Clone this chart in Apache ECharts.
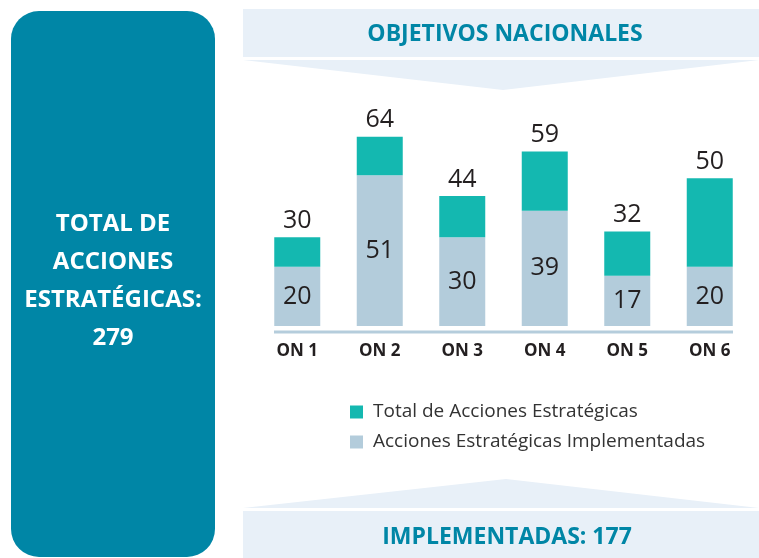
<!DOCTYPE html>
<html>
<head>
<meta charset="utf-8">
<script src="https://cdn.jsdelivr.net/npm/echarts@6.0.0/dist/echarts.min.js"></script>
<style>
  html, body { margin: 0; padding: 0; background: #fff; }
  #chart { width: 759px; height: 558px; }
</style>
</head>
<body>
<div id="chart"></div>
<script>
// datos por objetivo nacional
var categorias = ['ON 1', 'ON 2', 'ON 3', 'ON 4', 'ON 5', 'ON 6'];
var totalAcciones = [30, 64, 44, 59, 32, 50];
var implementadas = [20, 51, 30, 39, 17, 20];

var nombreTotal = 'Total de Acciones Estratégicas';
var nombreImpl = 'Acciones Estratégicas Implementadas';

// parte superior de la barra = total - implementadas
var pendientes = totalAcciones.map(function (v, i) { return v - implementadas[i]; });
var sumaTotal = totalAcciones.reduce(function (a, b) { return a + b; }, 0);
var sumaImpl = implementadas.reduce(function (a, b) { return a + b; }, 0);

var azul = '#0086A6';
var banda = '#E8F0F8';
var texto = '#231F20';

var myChart = echarts.init(document.getElementById('chart'));

var option = {
  animation: false,
  grid: { left: 256, right: 8, top: 122, bottom: 232 },
  xAxis: {
    type: 'category',
    data: categorias,
    axisLine: { show: false },
    axisTick: { show: false },
    axisLabel: {
      margin: 17,
      color: texto,
      fontFamily: 'Open Sans',
      fontWeight: 'bold',
      fontSize: 17
    }
  },
  yAxis: {
    type: 'value',
    min: 0,
    max: 69,
    show: false,
    splitLine: { show: false }
  },
  legend: {
    data: [nombreTotal, nombreImpl],
    orient: 'vertical',
    left: 350,
    top: 401,
    padding: 0,
    itemWidth: 13,
    itemHeight: 13,
    itemGap: 8,
    icon: 'rect',
    textStyle: {
      fontFamily: 'Open Sans',
      fontSize: 19,
      lineHeight: 22,
      color: '#333333',
      padding: [0, 0, 0, 5]
    }
  },
  graphic: [
    // panel izquierdo
    { type: 'rect', shape: { x: 11, y: 11, width: 204, height: 546, r: 28 }, style: { fill: azul } },
    {
      type: 'text', x: 113, y: 281,
      style: {
        text: 'TOTAL DE\nACCIONES\nESTRATÉGICAS:\n' + sumaTotal,
        fill: '#fff', font: 'bold 24px "Open Sans"', lineHeight: 38,
        align: 'center', verticalAlign: 'middle'
      }
    },
    // banda superior
    { type: 'rect', shape: { x: 243, y: 9, width: 516, height: 48 }, style: { fill: banda } },
    { type: 'polygon', shape: { points: [[243, 60], [759, 60], [503, 90]] }, style: { fill: banda } },
    {
      type: 'text', x: 505, y: 34,
      style: {
        text: 'OBJETIVOS NACIONALES', fill: azul, font: 'bold 23px "Open Sans"',
        align: 'center', verticalAlign: 'middle'
      }
    },
    // banda inferior
    { type: 'polygon', shape: { points: [[243, 508], [759, 508], [506, 479]] }, style: { fill: banda } },
    { type: 'rect', shape: { x: 243, y: 511, width: 516, height: 47 }, style: { fill: banda } },
    {
      type: 'text', x: 507, y: 537,
      style: {
        text: 'IMPLEMENTADAS: ' + sumaImpl, fill: azul, font: 'bold 23px "Open Sans"',
        align: 'center', verticalAlign: 'middle'
      }
    },
    // linea base bajo las barras
    { type: 'line', shape: { x1: 274, y1: 332, x2: 733, y2: 332 }, style: { stroke: '#B5CDDC', lineWidth: 3 } }
  ],
  series: [
    {
      name: nombreImpl,
      type: 'bar',
      stack: 'acciones',
      barWidth: 46,
      data: implementadas,
      itemStyle: { color: '#B3CCDB' },
      label: {
        show: true,
        position: 'inside',
        color: texto,
        fontFamily: 'Open Sans',
        fontSize: 25
      }
    },
    {
      name: nombreTotal,
      type: 'bar',
      stack: 'acciones',
      barWidth: 46,
      data: pendientes,
      itemStyle: { color: '#14B8B0' },
      label: {
        show: true,
        position: 'top',
        distance: 4,
        color: texto,
        fontFamily: 'Open Sans',
        fontSize: 25,
        formatter: function (p) { return totalAcciones[p.dataIndex]; }
      }
    }
  ]
};

myChart.setOption(option);
</script>
</body>
</html>
